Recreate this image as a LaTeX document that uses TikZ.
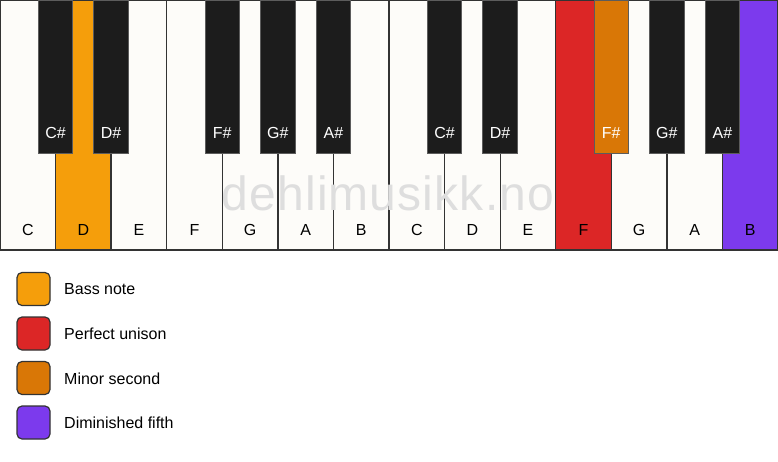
\documentclass[tikz,border=0pt]{standalone}
\usepackage{fontspec}
\setmainfont{Liberation Sans}
\newfontfamily\wmfont[LetterSpace=2.4]{Liberation Sans}
\definecolor{keywhite}{HTML}{FDFCF9}
\definecolor{keyblack}{HTML}{1C1C1C}
\definecolor{keyedge}{HTML}{333333}
\definecolor{bassc}{HTML}{F59E0B}
\definecolor{unisonc}{HTML}{DC2626}
\definecolor{minorc}{HTML}{D97706}
\definecolor{dimc}{HTML}{7C3AED}
\definecolor{wmark}{HTML}{DEDEDE}
\begin{document}
\begin{tikzpicture}[x=1pt,y=-1pt,
  whitekey/.style={draw=keyedge, line width=1.3pt, fill=keywhite, minimum width=55.5714pt, minimum height=250pt, anchor=north west, inner sep=0pt, outer sep=0pt},
  blackkey/.style={draw=keyedge!80!white, line width=0.9pt, fill=keyblack, minimum width=34.5pt, minimum height=153pt, anchor=north, inner sep=0pt, outer sep=0pt},
  wlabel/.style={font=\fontsize{16}{18}\selectfont, text=black, inner sep=0pt},
  blabel/.style={font=\fontsize{16}{18}\selectfont, text=white, inner sep=0pt},
  legbox/.style={draw=keyedge, line width=1.2pt, rounded corners=5pt, minimum width=33pt, minimum height=33pt, inner sep=0pt},
  legtext/.style={font=\fontsize{16}{18}\selectfont, anchor=west, inner sep=0pt}]
\useasboundingbox (0,0) rectangle (778,461);
\fill[white] (0,0) rectangle (778,461);
\def\w{55.5714}
% white keys
\foreach \i/\n/\c in {0/C/keywhite,1/D/bassc,2/E/keywhite,3/F/keywhite,4/G/keywhite,5/A/keywhite,6/B/keywhite,7/C/keywhite,8/D/keywhite,9/E/keywhite,10/F/unisonc,11/G/keywhite,12/A/keywhite,13/B/dimc}{
  \node[whitekey, fill=\c] (w\i) at ({\i*\w},0) {};
  \node[wlabel] (wl\i) at ({(\i+0.5)*\w},230) {\n};
}
% watermark
\node[font=\wmfont\fontsize{48}{50}\selectfont, text=wmark, inner sep=0pt] (wm) at (388,193) {dehlimusikk.no};
% black keys
\foreach \i/\n/\c/\t in {1/C/keyblack/white,2/D/keyblack/white,4/F/keyblack/white,5/G/keyblack/white,6/A/keyblack/white,8/C/keyblack/white,9/D/keyblack/white,11/F/minorc/white,12/G/keyblack/white,13/A/keyblack/white}{
  \node[blackkey, fill=\c] (b\i) at ({\i*\w},0) {};
  \node[blabel, text=\t] (bl\i) at ({\i*\w},132.5) {\n\#};
}
% legend
\node[legbox, fill=bassc] (l1) at (33.5,289) {};
\node[legtext] (lt1) at (64,289.5) {Bass note};
\node[legbox, fill=unisonc] (l2) at (33.5,333.5) {};
\node[legtext] (lt2) at (64,334) {Perfect unison};
\node[legbox, fill=minorc] (l3) at (33.5,378) {};
\node[legtext] (lt3) at (64,378.5) {Minor second};
\node[legbox, fill=dimc] (l4) at (33.5,422.5) {};
\node[legtext] (lt4) at (64,423) {Diminished fifth};
\end{tikzpicture}
\end{document}
